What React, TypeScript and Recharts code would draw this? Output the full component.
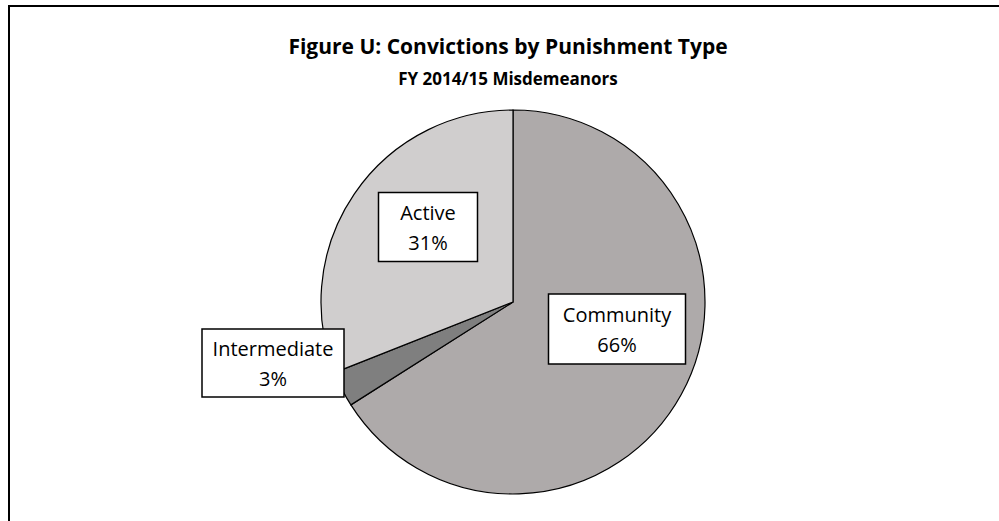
import { PieChart, Pie, Cell } from 'recharts'

const categories = ['Community', 'Intermediate', 'Active']
const shares = [66, 3, 31]
const fills = ['#AEAAAA', '#7F7F7F', '#D0CECE']

const data = categories.map((name, i) => ({ name, value: shares[i] }))

// label box placement, relative to pie centre (px)
const labelBox: Record<string, { dx: number; dy: number; w: number; h: number }> = {
  Community: { dx: 104, dy: 27, w: 137, h: 70 },
  Intermediate: { dx: -240, dy: 61, w: 142, h: 68 },
  Active: { dx: -85, dy: -75, w: 99, h: 69 },
}

const font = '"Open Sans", sans-serif'

function BoxLabel(props: any) {
  const { cx, cy, name, percent } = props
  const b = labelBox[name]
  const x = cx + b.dx
  const y = cy + b.dy
  return (
    <g>
      <rect
        x={x - b.w / 2}
        y={y - b.h / 2}
        width={b.w}
        height={b.h}
        fill="#fff"
        stroke="#000"
        strokeWidth={1.5}
      />
      <text x={x} y={y - 7} textAnchor="middle" fontFamily={font} fontSize={20} fill="#000">
        {name}
      </text>
      <text x={x} y={y + 23} textAnchor="middle" fontFamily={font} fontSize={20} fill="#000">
        {Math.round(percent * 100)}%
      </text>
    </g>
  )
}

export default function App() {
  return (
    <div
      style={{
        position: 'absolute',
        left: 0,
        top: 0,
        width: 999,
        height: 521,
        overflow: 'hidden',
        background: '#fff',
      }}
    >
      <div
        style={{
          position: 'absolute',
          left: 8,
          top: 5,
          width: 1100,
          height: 700,
          borderLeft: '2px solid #000',
          borderTop: '2px solid #000',
        }}
      />
      <div
        style={{
          position: 'absolute',
          left: 0,
          width: 1016,
          top: 32,
          textAlign: 'center',
          fontFamily: font,
          fontWeight: 700,
          fontSize: 21,
          lineHeight: '28px',
        }}
      >
        Figure U: Convictions by Punishment Type
      </div>
      <div
        style={{
          position: 'absolute',
          left: 0,
          width: 1016,
          top: 67,
          textAlign: 'center',
          fontFamily: font,
          fontWeight: 700,
          fontSize: 17,
          lineHeight: '24px',
        }}
      >
        FY 2014/15 Misdemeanors
      </div>
      <PieChart width={999} height={521} style={{ position: 'absolute', left: 0, top: 0 }}>
        <Pie
          data={data}
          dataKey="value"
          nameKey="name"
          cx={508}
          cy={297}
          outerRadius={192}
          startAngle={90}
          endAngle={-270}
          stroke="#000"
          strokeWidth={1.2}
          labelLine={false}
          label={BoxLabel}
          isAnimationActive={false}
        >
          {data.map((d, i) => (
            <Cell key={d.name} fill={fills[i]} />
          ))}
        </Pie>
      </PieChart>
    </div>
  )
}
